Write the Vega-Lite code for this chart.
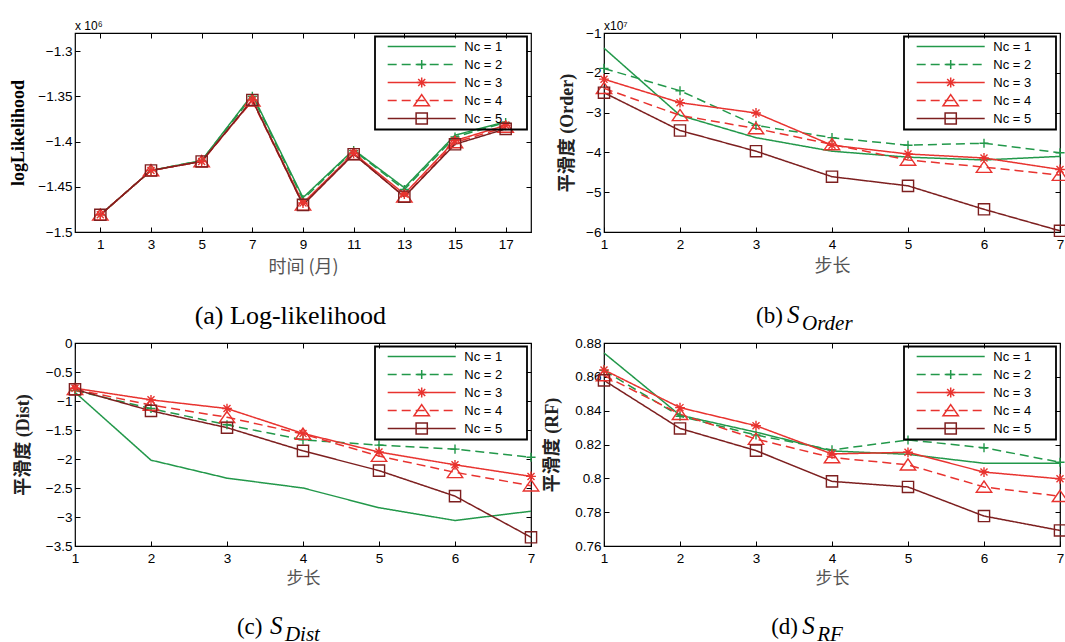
{
  "$schema": "https://vega.github.io/schema/vega-lite/v6.json",
  "padding": {"left": 9, "top": 19, "right": 0, "bottom": 0},
  "datasets": {
    "a": [
      {"x": 1, "nc": "Nc = 1", "v": -1.481}, {"x": 3, "nc": "Nc = 1", "v": -1.432}, {"x": 5, "nc": "Nc = 1", "v": -1.421}, {"x": 7, "nc": "Nc = 1", "v": -1.348}, {"x": 9, "nc": "Nc = 1", "v": -1.462}, {"x": 11, "nc": "Nc = 1", "v": -1.409}, {"x": 13, "nc": "Nc = 1", "v": -1.451}, {"x": 15, "nc": "Nc = 1", "v": -1.393}, {"x": 17, "nc": "Nc = 1", "v": -1.378},
      {"x": 1, "nc": "Nc = 2", "v": -1.481}, {"x": 3, "nc": "Nc = 2", "v": -1.432}, {"x": 5, "nc": "Nc = 2", "v": -1.421}, {"x": 7, "nc": "Nc = 2", "v": -1.350}, {"x": 9, "nc": "Nc = 2", "v": -1.464}, {"x": 11, "nc": "Nc = 2", "v": -1.410}, {"x": 13, "nc": "Nc = 2", "v": -1.453}, {"x": 15, "nc": "Nc = 2", "v": -1.395}, {"x": 17, "nc": "Nc = 2", "v": -1.379},
      {"x": 1, "nc": "Nc = 3", "v": -1.481}, {"x": 3, "nc": "Nc = 3", "v": -1.432}, {"x": 5, "nc": "Nc = 3", "v": -1.422}, {"x": 7, "nc": "Nc = 3", "v": -1.354}, {"x": 9, "nc": "Nc = 3", "v": -1.468}, {"x": 11, "nc": "Nc = 3", "v": -1.413}, {"x": 13, "nc": "Nc = 3", "v": -1.458}, {"x": 15, "nc": "Nc = 3", "v": -1.399}, {"x": 17, "nc": "Nc = 3", "v": -1.382},
      {"x": 1, "nc": "Nc = 4", "v": -1.481}, {"x": 3, "nc": "Nc = 4", "v": -1.432}, {"x": 5, "nc": "Nc = 4", "v": -1.422}, {"x": 7, "nc": "Nc = 4", "v": -1.355}, {"x": 9, "nc": "Nc = 4", "v": -1.470}, {"x": 11, "nc": "Nc = 4", "v": -1.414}, {"x": 13, "nc": "Nc = 4", "v": -1.461}, {"x": 15, "nc": "Nc = 4", "v": -1.401}, {"x": 17, "nc": "Nc = 4", "v": -1.384},
      {"x": 1, "nc": "Nc = 5", "v": -1.481}, {"x": 3, "nc": "Nc = 5", "v": -1.432}, {"x": 5, "nc": "Nc = 5", "v": -1.422}, {"x": 7, "nc": "Nc = 5", "v": -1.354}, {"x": 9, "nc": "Nc = 5", "v": -1.470}, {"x": 11, "nc": "Nc = 5", "v": -1.414}, {"x": 13, "nc": "Nc = 5", "v": -1.461}, {"x": 15, "nc": "Nc = 5", "v": -1.403}, {"x": 17, "nc": "Nc = 5", "v": -1.386}
    ],
    "b": [
      {"x": 1, "nc": "Nc = 1", "v": -1.38}, {"x": 2, "nc": "Nc = 1", "v": -3.07}, {"x": 3, "nc": "Nc = 1", "v": -3.63}, {"x": 4, "nc": "Nc = 1", "v": -3.97}, {"x": 5, "nc": "Nc = 1", "v": -4.12}, {"x": 6, "nc": "Nc = 1", "v": -4.19}, {"x": 7, "nc": "Nc = 1", "v": -4.10},
      {"x": 1, "nc": "Nc = 2", "v": -1.89}, {"x": 2, "nc": "Nc = 2", "v": -2.45}, {"x": 3, "nc": "Nc = 2", "v": -3.32}, {"x": 4, "nc": "Nc = 2", "v": -3.63}, {"x": 5, "nc": "Nc = 2", "v": -3.82}, {"x": 6, "nc": "Nc = 2", "v": -3.77}, {"x": 7, "nc": "Nc = 2", "v": -4.01},
      {"x": 1, "nc": "Nc = 3", "v": -2.16}, {"x": 2, "nc": "Nc = 3", "v": -2.75}, {"x": 3, "nc": "Nc = 3", "v": -3.01}, {"x": 4, "nc": "Nc = 3", "v": -3.82}, {"x": 5, "nc": "Nc = 3", "v": -4.04}, {"x": 6, "nc": "Nc = 3", "v": -4.14}, {"x": 7, "nc": "Nc = 3", "v": -4.43},
      {"x": 1, "nc": "Nc = 4", "v": -2.39}, {"x": 2, "nc": "Nc = 4", "v": -3.07}, {"x": 3, "nc": "Nc = 4", "v": -3.40}, {"x": 4, "nc": "Nc = 4", "v": -3.80}, {"x": 5, "nc": "Nc = 4", "v": -4.19}, {"x": 6, "nc": "Nc = 4", "v": -4.37}, {"x": 7, "nc": "Nc = 4", "v": -4.57},
      {"x": 1, "nc": "Nc = 5", "v": -2.50}, {"x": 2, "nc": "Nc = 5", "v": -3.45}, {"x": 3, "nc": "Nc = 5", "v": -3.97}, {"x": 4, "nc": "Nc = 5", "v": -4.61}, {"x": 5, "nc": "Nc = 5", "v": -4.84}, {"x": 6, "nc": "Nc = 5", "v": -5.43}, {"x": 7, "nc": "Nc = 5", "v": -5.97}
    ],
    "c": [
      {"x": 1, "nc": "Nc = 1", "v": -0.85}, {"x": 2, "nc": "Nc = 1", "v": -2.02}, {"x": 3, "nc": "Nc = 1", "v": -2.33}, {"x": 4, "nc": "Nc = 1", "v": -2.50}, {"x": 5, "nc": "Nc = 1", "v": -2.84}, {"x": 6, "nc": "Nc = 1", "v": -3.06}, {"x": 7, "nc": "Nc = 1", "v": -2.90},
      {"x": 1, "nc": "Nc = 2", "v": -0.82}, {"x": 2, "nc": "Nc = 2", "v": -1.13}, {"x": 3, "nc": "Nc = 2", "v": -1.41}, {"x": 4, "nc": "Nc = 2", "v": -1.67}, {"x": 5, "nc": "Nc = 2", "v": -1.76}, {"x": 6, "nc": "Nc = 2", "v": -1.83}, {"x": 7, "nc": "Nc = 2", "v": -1.97},
      {"x": 1, "nc": "Nc = 3", "v": -0.78}, {"x": 2, "nc": "Nc = 3", "v": -0.98}, {"x": 3, "nc": "Nc = 3", "v": -1.13}, {"x": 4, "nc": "Nc = 3", "v": -1.56}, {"x": 5, "nc": "Nc = 3", "v": -1.88}, {"x": 6, "nc": "Nc = 3", "v": -2.10}, {"x": 7, "nc": "Nc = 3", "v": -2.30},
      {"x": 1, "nc": "Nc = 4", "v": -0.80}, {"x": 2, "nc": "Nc = 4", "v": -1.07}, {"x": 3, "nc": "Nc = 4", "v": -1.28}, {"x": 4, "nc": "Nc = 4", "v": -1.57}, {"x": 5, "nc": "Nc = 4", "v": -1.95}, {"x": 6, "nc": "Nc = 4", "v": -2.23}, {"x": 7, "nc": "Nc = 4", "v": -2.46},
      {"x": 1, "nc": "Nc = 5", "v": -0.80}, {"x": 2, "nc": "Nc = 5", "v": -1.17}, {"x": 3, "nc": "Nc = 5", "v": -1.46}, {"x": 4, "nc": "Nc = 5", "v": -1.86}, {"x": 5, "nc": "Nc = 5", "v": -2.20}, {"x": 6, "nc": "Nc = 5", "v": -2.64}, {"x": 7, "nc": "Nc = 5", "v": -3.35}
    ],
    "d": [
      {"x": 1, "nc": "Nc = 1", "v": 0.8741}, {"x": 2, "nc": "Nc = 1", "v": 0.8373}, {"x": 3, "nc": "Nc = 1", "v": 0.8273}, {"x": 4, "nc": "Nc = 1", "v": 0.8162}, {"x": 5, "nc": "Nc = 1", "v": 0.8142}, {"x": 6, "nc": "Nc = 1", "v": 0.8089}, {"x": 7, "nc": "Nc = 1", "v": 0.8089},
      {"x": 1, "nc": "Nc = 2", "v": 0.8638}, {"x": 2, "nc": "Nc = 2", "v": 0.8367}, {"x": 3, "nc": "Nc = 2", "v": 0.8256}, {"x": 4, "nc": "Nc = 2", "v": 0.8168}, {"x": 5, "nc": "Nc = 2", "v": 0.8227}, {"x": 6, "nc": "Nc = 2", "v": 0.8181}, {"x": 7, "nc": "Nc = 2", "v": 0.8095},
      {"x": 1, "nc": "Nc = 3", "v": 0.8641}, {"x": 2, "nc": "Nc = 3", "v": 0.8418}, {"x": 3, "nc": "Nc = 3", "v": 0.8311}, {"x": 4, "nc": "Nc = 3", "v": 0.8144}, {"x": 5, "nc": "Nc = 3", "v": 0.8154}, {"x": 6, "nc": "Nc = 3", "v": 0.8037}, {"x": 7, "nc": "Nc = 3", "v": 0.7997},
      {"x": 1, "nc": "Nc = 4", "v": 0.8608}, {"x": 2, "nc": "Nc = 4", "v": 0.8379}, {"x": 3, "nc": "Nc = 4", "v": 0.8232}, {"x": 4, "nc": "Nc = 4", "v": 0.8123}, {"x": 5, "nc": "Nc = 4", "v": 0.8080}, {"x": 6, "nc": "Nc = 4", "v": 0.7949}, {"x": 7, "nc": "Nc = 4", "v": 0.7894},
      {"x": 1, "nc": "Nc = 5", "v": 0.8579}, {"x": 2, "nc": "Nc = 5", "v": 0.8295}, {"x": 3, "nc": "Nc = 5", "v": 0.8164}, {"x": 4, "nc": "Nc = 5", "v": 0.7982}, {"x": 5, "nc": "Nc = 5", "v": 0.7949}, {"x": 6, "nc": "Nc = 5", "v": 0.7777}, {"x": 7, "nc": "Nc = 5", "v": 0.7692}
    ]
  },
  "columns": 2,
  "spacing": {"row": 111, "column": 73},
  "bounds": "flush",
  "align": "each",
  "resolve": {
    "scale": {"x": "independent", "y": "independent", "color": "independent", "strokeDash": "independent", "stroke": "independent", "shape": "independent"},
    "legend": {"color": "independent", "strokeDash": "independent", "stroke": "independent", "shape": "independent"}
  },
  "concat": [
    {
      "width": 456, "height": 199,
      "resolve": {"axis": {"x": "independent", "y": "independent"}},
      "layer": [
        {
          "data": {"name": "a"},
          "mark": {"type": "line", "strokeWidth": 1.5},
          "encoding": {
            "x": {"field": "x", "type": "quantitative", "scale": {"domain": [0, 18], "nice": false, "zero": false}, "axis": {"orient": "bottom", "values": [1, 3, 5, 7, 9, 11, 13, 15, 17], "format": "~g", "title": "时间 (月)", "titlePadding": 8}},
            "y": {"field": "v", "type": "quantitative", "scale": {"domain": [-1.5, -1.28], "nice": false, "zero": false}, "axis": {"orient": "left", "values": [-1.5, -1.45, -1.4, -1.35, -1.3], "format": "~g", "title": "logLikelihood", "titleFont": "Liberation Serif", "titleFontWeight": "bold", "titleColor": "black", "titleFontSize": 18, "titlePadding": 10}},
            "color": {"field": "nc", "type": "nominal", "scale": {"domain": ["Nc = 1", "Nc = 2", "Nc = 3", "Nc = 4", "Nc = 5"], "range": ["#22984a", "#22984a", "#e8332f", "#e8332f", "#7d1f1f"]},
              "legend": {"title": null, "orient": "none", "legendX": 300, "legendY": 3.5, "direction": "vertical", "symbolType": "M0,-0.85M0,0.85M-4.86,0H4.86", "symbolSize": 196, "symbolStrokeWidth": 1.5, "symbolOffset": 36.7, "labelOffset": 34.6, "strokeColor": "black", "fillColor": "transparent", "padding": 2, "rowPadding": 0, "labelFontSize": 13, "labelExpr": "datum.label + '\u2003\u2002\u2009\u200b'"}},
            "strokeDash": {"field": "nc", "type": "nominal", "scale": {"domain": ["Nc = 1", "Nc = 2", "Nc = 3", "Nc = 4", "Nc = 5"], "range": [[1, 0], [9, 5], [1, 0], [9, 5], [1, 0]]},
              "legend": {"title": null, "orient": "none", "legendX": 300, "legendY": 3.5, "direction": "vertical", "symbolType": "M0,-0.85M0,0.85M-4.86,0H4.86", "symbolSize": 196, "symbolStrokeWidth": 1.5, "symbolOffset": 36.7, "labelOffset": 34.6, "strokeColor": "black", "fillColor": "transparent", "padding": 2, "rowPadding": 0, "labelFontSize": 13, "labelExpr": "datum.label + '\u2003\u2002\u2009\u200b'"}}
          }
        },
        {
          "data": {"name": "a"},
          "mark": {"type": "point", "filled": false, "size": 196, "strokeWidth": 1.4, "opacity": 1},
          "encoding": {
            "x": {"field": "x", "type": "quantitative", "axis": {"orient": "top", "values": [1, 3, 5, 7, 9, 11, 13, 15, 17], "labels": false, "title": null}},
            "y": {"field": "v", "type": "quantitative", "axis": {"orient": "right", "values": [-1.5, -1.45, -1.4, -1.35, -1.3], "labels": false, "title": null}},
            "stroke": {"field": "nc", "type": "nominal", "scale": {"range": ["#22984a", "#22984a", "#e8332f", "#e8332f", "#7d1f1f"]},
              "legend": {"title": null, "orient": "none", "legendX": 300, "legendY": 3.5, "direction": "vertical", "symbolSize": 196, "symbolStrokeWidth": 1.5, "symbolOffset": 36.7, "labelOffset": 34.6, "symbolFillColor": "transparent", "labelExpr": "''", "padding": 2, "rowPadding": 0, "labelFontSize": 13, "strokeColor": "transparent", "fillColor": "transparent"}},
            "shape": {"field": "nc", "type": "nominal", "scale": {"range": ["M-1,-0.85M1,0.85", "M-1,-0.85M1,0.85M-0.65,0H0.65M0,-0.65V0.65", "M-1,-0.85M1,0.85M-0.7,0H0.7M0,-0.7V0.7M-0.5,-0.5L0.5,0.5M-0.5,0.5L0.5,-0.5", "M-1,-0.85M1,0.85M0,-0.85L1.1,0.75L-1.1,0.75Z", "M-1,-0.85M1,0.85M-0.8,-0.8H0.8V0.8H-0.8Z"]},
              "legend": {"title": null, "orient": "none", "legendX": 300, "legendY": 3.5, "direction": "vertical", "symbolSize": 196, "symbolStrokeWidth": 1.5, "symbolOffset": 36.7, "labelOffset": 34.6, "symbolFillColor": "transparent", "labelExpr": "''", "padding": 2, "rowPadding": 0, "labelFontSize": 13, "strokeColor": "transparent", "fillColor": "transparent"}}
          }
        },
        {
          "data": {"values": [{}]},
          "mark": {"type": "text", "text": "x 10⁶", "font": "Liberation Sans", "fontSize": 12, "align": "left", "baseline": "alphabetic", "color": "black"},
          "encoding": {"x": {"datum": 0, "type": "quantitative", "axis": null}, "y": {"datum": -1.2767, "type": "quantitative", "axis": null}}
        },
        {
          "data": {"values": [{}]},
          "mark": {"type": "text", "text": "(a) Log-likelihood", "font": "Liberation Serif", "fontSize": 26, "align": "center", "baseline": "alphabetic", "color": "black"},
          "encoding": {"x": {"datum": 8.5, "type": "quantitative", "axis": null}, "y": {"datum": -1.602, "type": "quantitative", "axis": null}}
        }
      ]
    },
    {
      "width": 456, "height": 199,
      "resolve": {"axis": {"x": "independent", "y": "independent"}},
      "layer": [
        {
          "data": {"name": "b"},
          "mark": {"type": "line", "strokeWidth": 1.5},
          "encoding": {
            "x": {"field": "x", "type": "quantitative", "scale": {"domain": [1, 7], "nice": false, "zero": false}, "axis": {"orient": "bottom", "values": [1, 2, 3, 4, 5, 6, 7], "format": "~g", "title": "步长", "titlePadding": 7}},
            "y": {"field": "v", "type": "quantitative", "scale": {"domain": [-6, -1], "nice": false, "zero": false}, "axis": {"orient": "left", "values": [-6, -5, -4, -3, -2, -1], "format": "~g", "title": "平滑度 (Order)", "titleFont": "Liberation Serif, Noto Sans CJK SC", "titleFontWeight": "bold", "titleColor": "#222", "titleFontSize": 18, "titlePadding": 9}},
            "color": {"field": "nc", "type": "nominal", "scale": {"domain": ["Nc = 1", "Nc = 2", "Nc = 3", "Nc = 4", "Nc = 5"], "range": ["#22984a", "#22984a", "#e8332f", "#e8332f", "#7d1f1f"]},
              "legend": {"title": null, "orient": "none", "legendX": 300, "legendY": 3.5, "direction": "vertical", "symbolType": "M0,-0.85M0,0.85M-4.86,0H4.86", "symbolSize": 196, "symbolStrokeWidth": 1.5, "symbolOffset": 36.7, "labelOffset": 34.6, "strokeColor": "black", "fillColor": "transparent", "padding": 2, "rowPadding": 0, "labelFontSize": 13, "labelExpr": "datum.label + '\u2003\u2002\u2009\u200b'"}},
            "strokeDash": {"field": "nc", "type": "nominal", "scale": {"domain": ["Nc = 1", "Nc = 2", "Nc = 3", "Nc = 4", "Nc = 5"], "range": [[1, 0], [9, 5], [1, 0], [9, 5], [1, 0]]},
              "legend": {"title": null, "orient": "none", "legendX": 300, "legendY": 3.5, "direction": "vertical", "symbolType": "M0,-0.85M0,0.85M-4.86,0H4.86", "symbolSize": 196, "symbolStrokeWidth": 1.5, "symbolOffset": 36.7, "labelOffset": 34.6, "strokeColor": "black", "fillColor": "transparent", "padding": 2, "rowPadding": 0, "labelFontSize": 13, "labelExpr": "datum.label + '\u2003\u2002\u2009\u200b'"}}
          }
        },
        {
          "data": {"name": "b"},
          "mark": {"type": "point", "filled": false, "size": 196, "strokeWidth": 1.4, "opacity": 1},
          "encoding": {
            "x": {"field": "x", "type": "quantitative", "axis": {"orient": "top", "values": [1, 2, 3, 4, 5, 6, 7], "labels": false, "title": null}},
            "y": {"field": "v", "type": "quantitative", "axis": {"orient": "right", "values": [-6, -5, -4, -3, -2, -1], "labels": false, "title": null}},
            "stroke": {"field": "nc", "type": "nominal", "scale": {"range": ["#22984a", "#22984a", "#e8332f", "#e8332f", "#7d1f1f"]},
              "legend": {"title": null, "orient": "none", "legendX": 300, "legendY": 3.5, "direction": "vertical", "symbolSize": 196, "symbolStrokeWidth": 1.5, "symbolOffset": 36.7, "labelOffset": 34.6, "symbolFillColor": "transparent", "labelExpr": "''", "padding": 2, "rowPadding": 0, "labelFontSize": 13, "strokeColor": "transparent", "fillColor": "transparent"}},
            "shape": {"field": "nc", "type": "nominal", "scale": {"range": ["M-1,-0.85M1,0.85", "M-1,-0.85M1,0.85M-0.65,0H0.65M0,-0.65V0.65", "M-1,-0.85M1,0.85M-0.7,0H0.7M0,-0.7V0.7M-0.5,-0.5L0.5,0.5M-0.5,0.5L0.5,-0.5", "M-1,-0.85M1,0.85M0,-0.85L1.1,0.75L-1.1,0.75Z", "M-1,-0.85M1,0.85M-0.8,-0.8H0.8V0.8H-0.8Z"]},
              "legend": {"title": null, "orient": "none", "legendX": 300, "legendY": 3.5, "direction": "vertical", "symbolSize": 196, "symbolStrokeWidth": 1.5, "symbolOffset": 36.7, "labelOffset": 34.6, "symbolFillColor": "transparent", "labelExpr": "''", "padding": 2, "rowPadding": 0, "labelFontSize": 13, "strokeColor": "transparent", "fillColor": "transparent"}}
          }
        },
        {
          "data": {"values": [{}]},
          "mark": {"type": "text", "text": "x10⁷", "font": "Liberation Sans", "fontSize": 12, "align": "left", "baseline": "alphabetic", "color": "black"},
          "encoding": {"x": {"datum": 1, "type": "quantitative", "axis": null}, "y": {"datum": -0.925, "type": "quantitative", "axis": null}}
        },
        {
          "data": {"values": [{}]},
          "mark": {"type": "text", "text": "(b)", "font": "Liberation Serif", "fontSize": 23, "align": "left", "baseline": "alphabetic", "color": "black"},
          "encoding": {"x": {"datum": 3.0, "type": "quantitative", "axis": null}, "y": {"datum": -8.29, "type": "quantitative", "axis": null}}
        },
        {
          "data": {"values": [{}]},
          "mark": {"type": "text", "text": "S", "font": "Liberation Serif", "fontStyle": "italic", "fontSize": 25, "align": "left", "baseline": "alphabetic", "dx": 31, "color": "black"},
          "encoding": {"x": {"datum": 3.0, "type": "quantitative", "axis": null}, "y": {"datum": -8.29, "type": "quantitative", "axis": null}}
        },
        {
          "data": {"values": [{}]},
          "mark": {"type": "text", "text": "Order", "font": "Liberation Serif", "fontStyle": "italic", "fontSize": 21, "align": "left", "baseline": "alphabetic", "dx": 46, "dy": 7, "color": "black"},
          "encoding": {"x": {"datum": 3.0, "type": "quantitative", "axis": null}, "y": {"datum": -8.29, "type": "quantitative", "axis": null}}
        }
      ]
    },
    {
      "width": 456, "height": 203,
      "resolve": {"axis": {"x": "independent", "y": "independent"}},
      "layer": [
        {
          "data": {"name": "c"},
          "mark": {"type": "line", "strokeWidth": 1.5},
          "encoding": {
            "x": {"field": "x", "type": "quantitative", "scale": {"domain": [1, 7], "nice": false, "zero": false}, "axis": {"orient": "bottom", "values": [1, 2, 3, 4, 5, 6, 7], "format": "~g", "title": "步长", "titleFontSize": 17, "titlePadding": 6}},
            "y": {"field": "v", "type": "quantitative", "scale": {"domain": [-3.5, 0], "nice": false, "zero": false}, "axis": {"orient": "left", "values": [-3.5, -3, -2.5, -2, -1.5, -1, -0.5, 0], "format": "~g", "title": "平滑度 (Dist)", "titleFont": "Liberation Serif, Noto Sans CJK SC", "titleFontWeight": "bold", "titleColor": "#222", "titleFontSize": 18, "titlePadding": 13}},
            "color": {"field": "nc", "type": "nominal", "scale": {"domain": ["Nc = 1", "Nc = 2", "Nc = 3", "Nc = 4", "Nc = 5"], "range": ["#22984a", "#22984a", "#e8332f", "#e8332f", "#7d1f1f"]},
              "legend": {"title": null, "orient": "none", "legendX": 300, "legendY": 3.5, "direction": "vertical", "symbolType": "M0,-0.85M0,0.85M-4.86,0H4.86", "symbolSize": 196, "symbolStrokeWidth": 1.5, "symbolOffset": 36.7, "labelOffset": 34.6, "strokeColor": "black", "fillColor": "transparent", "padding": 2, "rowPadding": 0, "labelFontSize": 13, "labelExpr": "datum.label + '\u2003\u2002\u2009\u200b'"}},
            "strokeDash": {"field": "nc", "type": "nominal", "scale": {"domain": ["Nc = 1", "Nc = 2", "Nc = 3", "Nc = 4", "Nc = 5"], "range": [[1, 0], [9, 5], [1, 0], [9, 5], [1, 0]]},
              "legend": {"title": null, "orient": "none", "legendX": 300, "legendY": 3.5, "direction": "vertical", "symbolType": "M0,-0.85M0,0.85M-4.86,0H4.86", "symbolSize": 196, "symbolStrokeWidth": 1.5, "symbolOffset": 36.7, "labelOffset": 34.6, "strokeColor": "black", "fillColor": "transparent", "padding": 2, "rowPadding": 0, "labelFontSize": 13, "labelExpr": "datum.label + '\u2003\u2002\u2009\u200b'"}}
          }
        },
        {
          "data": {"name": "c"},
          "mark": {"type": "point", "filled": false, "size": 196, "strokeWidth": 1.4, "opacity": 1},
          "encoding": {
            "x": {"field": "x", "type": "quantitative", "axis": {"orient": "top", "values": [1, 2, 3, 4, 5, 6, 7], "labels": false, "title": null}},
            "y": {"field": "v", "type": "quantitative", "axis": {"orient": "right", "values": [-3.5, -3, -2.5, -2, -1.5, -1, -0.5, 0], "labels": false, "title": null}},
            "stroke": {"field": "nc", "type": "nominal", "scale": {"range": ["#22984a", "#22984a", "#e8332f", "#e8332f", "#7d1f1f"]},
              "legend": {"title": null, "orient": "none", "legendX": 300, "legendY": 3.5, "direction": "vertical", "symbolSize": 196, "symbolStrokeWidth": 1.5, "symbolOffset": 36.7, "labelOffset": 34.6, "symbolFillColor": "transparent", "labelExpr": "''", "padding": 2, "rowPadding": 0, "labelFontSize": 13, "strokeColor": "transparent", "fillColor": "transparent"}},
            "shape": {"field": "nc", "type": "nominal", "scale": {"range": ["M-1,-0.85M1,0.85", "M-1,-0.85M1,0.85M-0.65,0H0.65M0,-0.65V0.65", "M-1,-0.85M1,0.85M-0.7,0H0.7M0,-0.7V0.7M-0.5,-0.5L0.5,0.5M-0.5,0.5L0.5,-0.5", "M-1,-0.85M1,0.85M0,-0.85L1.1,0.75L-1.1,0.75Z", "M-1,-0.85M1,0.85M-0.8,-0.8H0.8V0.8H-0.8Z"]},
              "legend": {"title": null, "orient": "none", "legendX": 300, "legendY": 3.5, "direction": "vertical", "symbolSize": 196, "symbolStrokeWidth": 1.5, "symbolOffset": 36.7, "labelOffset": 34.6, "symbolFillColor": "transparent", "labelExpr": "''", "padding": 2, "rowPadding": 0, "labelFontSize": 13, "strokeColor": "transparent", "fillColor": "transparent"}}
          }
        },
        {
          "data": {"values": [{}]},
          "mark": {"type": "text", "text": "(c)", "font": "Liberation Serif", "fontSize": 23, "align": "left", "baseline": "alphabetic", "color": "black"},
          "encoding": {"x": {"datum": 3.13, "type": "quantitative", "axis": null}, "y": {"datum": -5.02, "type": "quantitative", "axis": null}}
        },
        {
          "data": {"values": [{}]},
          "mark": {"type": "text", "text": "S", "font": "Liberation Serif", "fontStyle": "italic", "fontSize": 25, "align": "left", "baseline": "alphabetic", "dx": 33, "color": "black"},
          "encoding": {"x": {"datum": 3.13, "type": "quantitative", "axis": null}, "y": {"datum": -5.02, "type": "quantitative", "axis": null}}
        },
        {
          "data": {"values": [{}]},
          "mark": {"type": "text", "text": "Dist", "font": "Liberation Serif", "fontStyle": "italic", "fontSize": 21, "align": "left", "baseline": "alphabetic", "dx": 48, "dy": 7, "color": "black"},
          "encoding": {"x": {"datum": 3.13, "type": "quantitative", "axis": null}, "y": {"datum": -5.02, "type": "quantitative", "axis": null}}
        }
      ]
    },
    {
      "width": 456, "height": 203,
      "resolve": {"axis": {"x": "independent", "y": "independent"}},
      "layer": [
        {
          "data": {"name": "d"},
          "mark": {"type": "line", "strokeWidth": 1.5},
          "encoding": {
            "x": {"field": "x", "type": "quantitative", "scale": {"domain": [1, 7], "nice": false, "zero": false}, "axis": {"orient": "bottom", "values": [1, 2, 3, 4, 5, 6, 7], "format": "~g", "title": "步长", "titleFontSize": 17, "titlePadding": 6}},
            "y": {"field": "v", "type": "quantitative", "scale": {"domain": [0.76, 0.88], "nice": false, "zero": false}, "axis": {"orient": "left", "values": [0.76, 0.78, 0.8, 0.82, 0.84, 0.86, 0.88], "format": "~g", "title": "平滑度 (RF)", "titleFont": "Liberation Serif, Noto Sans CJK SC", "titleFontWeight": "bold", "titleColor": "#222", "titleFontSize": 18, "titlePadding": 13}},
            "color": {"field": "nc", "type": "nominal", "scale": {"domain": ["Nc = 1", "Nc = 2", "Nc = 3", "Nc = 4", "Nc = 5"], "range": ["#22984a", "#22984a", "#e8332f", "#e8332f", "#7d1f1f"]},
              "legend": {"title": null, "orient": "none", "legendX": 300, "legendY": 3.5, "direction": "vertical", "symbolType": "M0,-0.85M0,0.85M-4.86,0H4.86", "symbolSize": 196, "symbolStrokeWidth": 1.5, "symbolOffset": 36.7, "labelOffset": 34.6, "strokeColor": "black", "fillColor": "transparent", "padding": 2, "rowPadding": 0, "labelFontSize": 13, "labelExpr": "datum.label + '\u2003\u2002\u2009\u200b'"}},
            "strokeDash": {"field": "nc", "type": "nominal", "scale": {"domain": ["Nc = 1", "Nc = 2", "Nc = 3", "Nc = 4", "Nc = 5"], "range": [[1, 0], [9, 5], [1, 0], [9, 5], [1, 0]]},
              "legend": {"title": null, "orient": "none", "legendX": 300, "legendY": 3.5, "direction": "vertical", "symbolType": "M0,-0.85M0,0.85M-4.86,0H4.86", "symbolSize": 196, "symbolStrokeWidth": 1.5, "symbolOffset": 36.7, "labelOffset": 34.6, "strokeColor": "black", "fillColor": "transparent", "padding": 2, "rowPadding": 0, "labelFontSize": 13, "labelExpr": "datum.label + '\u2003\u2002\u2009\u200b'"}}
          }
        },
        {
          "data": {"name": "d"},
          "mark": {"type": "point", "filled": false, "size": 196, "strokeWidth": 1.4, "opacity": 1},
          "encoding": {
            "x": {"field": "x", "type": "quantitative", "axis": {"orient": "top", "values": [1, 2, 3, 4, 5, 6, 7], "labels": false, "title": null}},
            "y": {"field": "v", "type": "quantitative", "axis": {"orient": "right", "values": [0.76, 0.78, 0.8, 0.82, 0.84, 0.86, 0.88], "labels": false, "title": null}},
            "stroke": {"field": "nc", "type": "nominal", "scale": {"range": ["#22984a", "#22984a", "#e8332f", "#e8332f", "#7d1f1f"]},
              "legend": {"title": null, "orient": "none", "legendX": 300, "legendY": 3.5, "direction": "vertical", "symbolSize": 196, "symbolStrokeWidth": 1.5, "symbolOffset": 36.7, "labelOffset": 34.6, "symbolFillColor": "transparent", "labelExpr": "''", "padding": 2, "rowPadding": 0, "labelFontSize": 13, "strokeColor": "transparent", "fillColor": "transparent"}},
            "shape": {"field": "nc", "type": "nominal", "scale": {"range": ["M-1,-0.85M1,0.85", "M-1,-0.85M1,0.85M-0.65,0H0.65M0,-0.65V0.65", "M-1,-0.85M1,0.85M-0.7,0H0.7M0,-0.7V0.7M-0.5,-0.5L0.5,0.5M-0.5,0.5L0.5,-0.5", "M-1,-0.85M1,0.85M0,-0.85L1.1,0.75L-1.1,0.75Z", "M-1,-0.85M1,0.85M-0.8,-0.8H0.8V0.8H-0.8Z"]},
              "legend": {"title": null, "orient": "none", "legendX": 300, "legendY": 3.5, "direction": "vertical", "symbolSize": 196, "symbolStrokeWidth": 1.5, "symbolOffset": 36.7, "labelOffset": 34.6, "symbolFillColor": "transparent", "labelExpr": "''", "padding": 2, "rowPadding": 0, "labelFontSize": 13, "strokeColor": "transparent", "fillColor": "transparent"}}
          }
        },
        {
          "data": {"values": [{}]},
          "mark": {"type": "text", "text": "(d)", "font": "Liberation Serif", "fontSize": 23, "align": "left", "baseline": "alphabetic", "color": "black"},
          "encoding": {"x": {"datum": 3.2, "type": "quantitative", "axis": null}, "y": {"datum": 0.708, "type": "quantitative", "axis": null}}
        },
        {
          "data": {"values": [{}]},
          "mark": {"type": "text", "text": "S", "font": "Liberation Serif", "fontStyle": "italic", "fontSize": 25, "align": "left", "baseline": "alphabetic", "dx": 31, "color": "black"},
          "encoding": {"x": {"datum": 3.2, "type": "quantitative", "axis": null}, "y": {"datum": 0.708, "type": "quantitative", "axis": null}}
        },
        {
          "data": {"values": [{}]},
          "mark": {"type": "text", "text": "RF", "font": "Liberation Serif", "fontStyle": "italic", "fontSize": 21, "align": "left", "baseline": "alphabetic", "dx": 46, "dy": 7, "color": "black"},
          "encoding": {"x": {"datum": 3.2, "type": "quantitative", "axis": null}, "y": {"datum": 0.708, "type": "quantitative", "axis": null}}
        }
      ]
    }
  ],
  "config": {
    "view": {"stroke": "black", "strokeWidth": 1.2},
    "axis": {"labelFont": "Liberation Sans", "labelFontSize": 13.5, "labelColor": "black", "tickColor": "black", "tickWidth": 1, "tickSize": -5, "domain": false, "grid": false, "labelFlush": false, "labelOverlap": false, "titleColor": "#555", "titleFont": "Noto Sans CJK SC", "titleFontSize": 18, "titleFontWeight": "normal"},
    "axisX": {"labelPadding": 10},
    "axisY": {"labelPadding": 8},
    "legend": {"strokeWidth": 1.8, "labelFont": "Liberation Sans", "labelColor": "black", "cornerRadius": 0}
  }
}
